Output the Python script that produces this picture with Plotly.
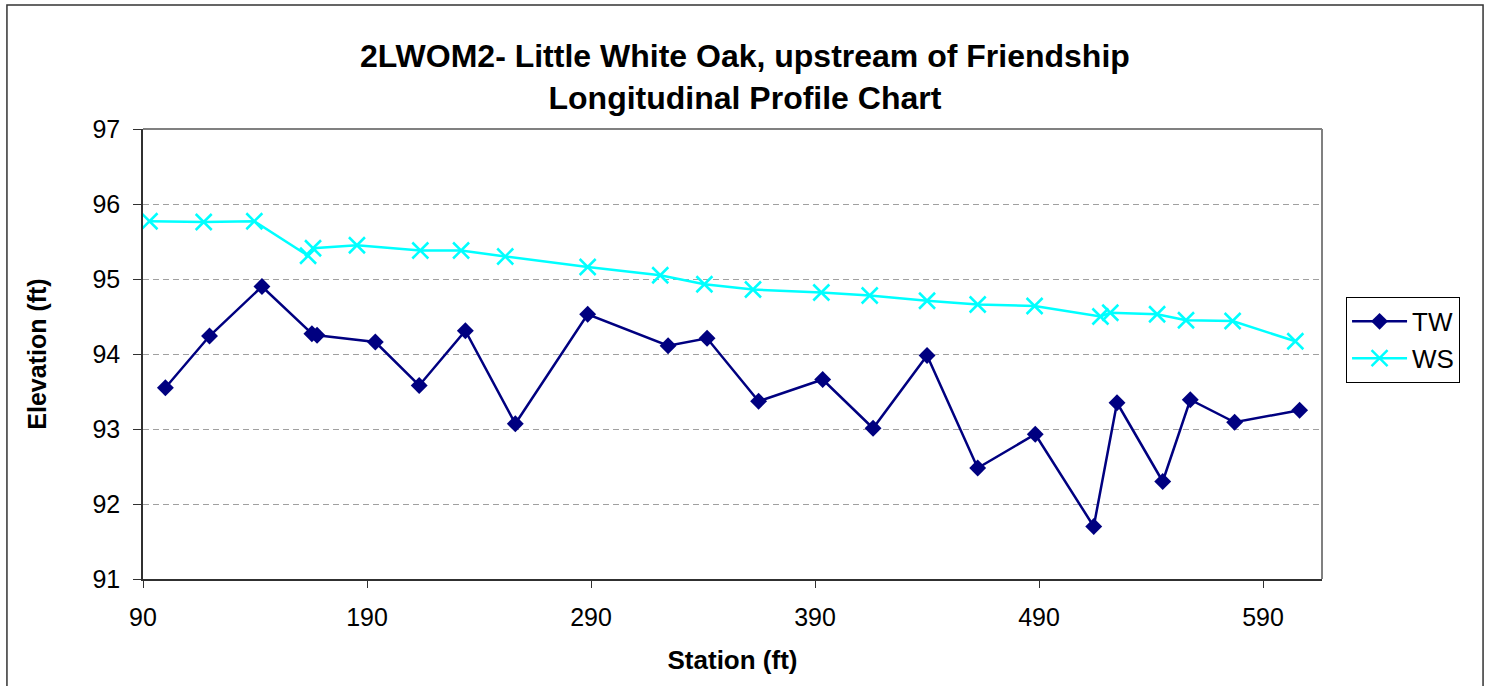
import plotly.graph_objects as go

# TW (thalweg) - station, elevation
tw_station = [100.0, 119.7, 143.1, 165.4, 167.7, 193.7, 213.3, 233.9, 256.2, 288.5,
              324.4, 341.8, 364.8, 393.4, 415.9, 440.0, 462.6, 488.3, 514.4, 524.8,
              545.2, 557.5, 577.3, 606.3]
tw_elev = [93.55, 94.24, 94.90, 94.27, 94.25, 94.16, 93.58, 94.31, 93.07, 94.53,
           94.11, 94.21, 93.37, 93.66, 93.01, 93.98, 92.48, 92.93, 91.70, 93.35,
           92.30, 93.39, 93.09, 93.25]

# WS (water surface) - station, elevation
ws_station = [92.9, 117.1, 139.7, 163.7, 165.9, 185.5, 213.8, 232.0, 251.7, 288.5,
              320.9, 340.6, 362.3, 392.8, 414.4, 440.0, 462.6, 488.0, 517.4, 521.8,
              542.7, 555.6, 576.4, 604.4]
ws_elev = [95.77, 95.76, 95.77, 95.31, 95.41, 95.45, 95.38, 95.38, 95.30, 95.16,
           95.05, 94.93, 94.86, 94.82, 94.78, 94.71, 94.66, 94.64, 94.50, 94.55,
           94.53, 94.45, 94.44, 94.17]

title_1 = "2LWOM2- Little White Oak, upstream of Friendship"
title_2 = "Longitudinal Profile Chart"

FONT = "Liberation Sans, Arial, sans-serif"

fig = go.Figure()
fig.add_trace(go.Scatter(
    x=tw_station, y=tw_elev, mode="lines+markers", name="TW",
    line=dict(color="#000080", width=2.5),
    marker=dict(symbol="diamond", size=13, color="#000080"),
))
fig.add_trace(go.Scatter(
    x=ws_station, y=ws_elev, mode="lines+markers", name="WS",
    line=dict(color="#00FFFF", width=2.5),
    marker=dict(symbol="x-thin", size=16, line=dict(color="#00FFFF", width=2.5)),
))

fig.update_layout(
    width=1485, height=686,
    margin=dict(l=143, r=163, t=129, b=107),
    paper_bgcolor="white", plot_bgcolor="white",
    font=dict(family=FONT, color="black", size=25),
    showlegend=True,
    legend=dict(
        x=1.0204, y=0.6268, xanchor="left", yanchor="top",
        bgcolor="white", bordercolor="black", borderwidth=1,
        font=dict(size=26), itemwidth=55,
    ),
    xaxis=dict(
        range=[90, 616.3], tick0=90, dtick=100,
        showgrid=False, zeroline=False,
        showline=True, linecolor="#303030", linewidth=1.5,
        ticks="outside", ticklen=7, tickcolor="#303030", tickwidth=1,
        ticklabelstandoff=8,
        title=dict(text="Station (ft)", font=dict(size=26, weight="bold"), standoff=21),
    ),
    yaxis=dict(
        range=[91, 97], dtick=1,
        showgrid=True, gridcolor="#a0a0a0", gridwidth=1, griddash="6px,4px",
        zeroline=False,
        showline=True, linecolor="#303030", linewidth=1.5,
        ticks="outside", ticklen=8, tickcolor="#303030", tickwidth=1,
        ticklabelstandoff=8,
        title=dict(text="Elevation (ft)", font=dict(size=25, weight="bold"), standoff=39),
    ),
)

# plot area border (top and right) in gray
fig.add_shape(type="line", xref="paper", yref="paper", x0=0, x1=1, y0=1, y1=1,
              line=dict(color="#808080", width=2), layer="above")
fig.add_shape(type="line", xref="paper", yref="paper", x0=1, x1=1, y0=0, y1=1,
              line=dict(color="#808080", width=2), layer="above")
# chart area border
fig.add_shape(type="rect", xref="paper", yref="paper",
              x0=-0.1154, x1=1.1366, y0=-0.26, y1=1.2756,
              line=dict(color="#333333", width=1.5), layer="below")

# two-line title
fig.add_annotation(text=title_1 + "<br>" + title_2, xref="paper", yref="paper",
                   x=0.5109, y=1.1162, xanchor="center", yanchor="middle",
                   showarrow=False, font=dict(size=32, weight="bold"))

# drop the default page margin so the figure sits at the window's corner
fig.write_html("out.html",
               config={"displayModeBar": False},
               post_script="document.body.style.margin='0';document.body.style.overflow='hidden';")
